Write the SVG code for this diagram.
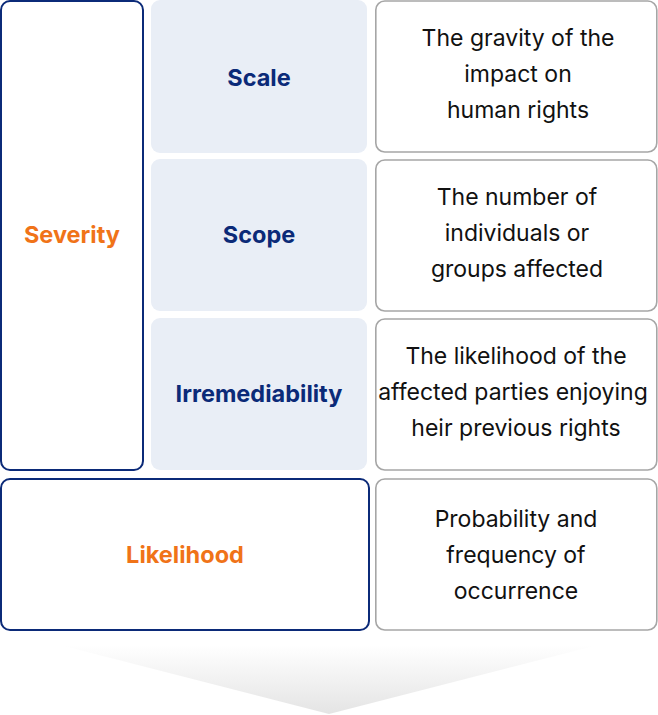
<svg xmlns="http://www.w3.org/2000/svg" width="658" height="715" viewBox="0 0 658 715">
<defs>
<linearGradient id="fun" x1="0" y1="0" x2="0" y2="1">
<stop offset="0" stop-color="#ffffff"/>
<stop offset="1" stop-color="#e4e4e4"/>
</linearGradient>
<style>
.nav{fill:#fff;stroke:#0b2a78;stroke-width:2}
.sub{fill:#e9eef6}
.desc{fill:#fff;stroke:#a6a6a6;stroke-width:1.6}
.ot{font-family:Inter,"Liberation Sans",sans-serif;font-weight:700;font-size:23.5px;fill:#f07318;text-anchor:middle}
.st{font-family:Inter,"Liberation Sans",sans-serif;font-weight:700;font-size:23.5px;fill:#0b2a78;text-anchor:middle}
.dt{font-family:Inter,"Liberation Sans",sans-serif;font-size:23px;fill:#111;text-anchor:middle}
</style>
</defs>
<g id="funnel"><polygon points="60,645 598,645 329,714" fill="url(#fun)"/></g>
<g id="severity"><rect class="nav" x="1" y="1" width="142" height="469" rx="9"/><text class="ot" x="72" y="243">Severity</text></g>
<g id="scale"><rect class="sub" x="151" y="0" width="216" height="153" rx="9"/><text class="st" x="259" y="86">Scale</text></g>
<g id="scope"><rect class="sub" x="151" y="159" width="216" height="152" rx="9"/><text class="st" x="259" y="243">Scope</text></g>
<g id="irremediability"><rect class="sub" x="151" y="318" width="216" height="152" rx="9"/><text class="st" x="259" y="402">Irremediability</text></g>
<g id="likelihood"><rect class="nav" x="1" y="479" width="368" height="151" rx="9"/><text class="ot" x="185" y="563">Likelihood</text></g>
<g id="d1"><rect class="desc" x="375.8" y="1" width="281" height="151" rx="9"/><text class="dt" x="518" y="46">The gravity of the</text><text class="dt" x="518" y="82">impact on</text><text class="dt" x="518" y="118">human rights</text></g>
<g id="d2"><rect class="desc" x="375.8" y="160" width="281" height="151" rx="9"/><text class="dt" x="517" y="205">The number of</text><text class="dt" x="517" y="241">individuals or</text><text class="dt" x="517" y="277">groups affected</text></g>
<g id="d3"><rect class="desc" x="375.8" y="319" width="281" height="151" rx="9"/><text class="dt" x="516" y="364">The likelihood of the</text><text class="dt" x="513" y="400">affected parties enjoying</text><text class="dt" x="516" y="436">heir previous rights</text></g>
<g id="d4"><rect class="desc" x="375.8" y="479" width="281" height="151" rx="9"/><text class="dt" x="516" y="527">Probability and</text><text class="dt" x="516" y="563">frequency of</text><text class="dt" x="516" y="599">occurrence</text></g>
<g id="connectors"/>
</svg>
